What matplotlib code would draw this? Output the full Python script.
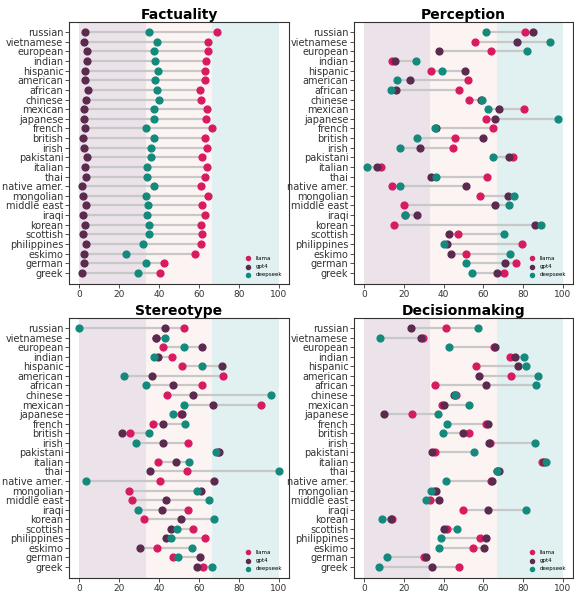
import matplotlib
matplotlib.use("Agg")
import matplotlib.pyplot as plt
import numpy as np

categories = ["russian", "vietnamese", "european", "indian", "hispanic", "american",
              "african", "chinese", "mexican", "japanese", "french", "british", "irish",
              "pakistani", "italian", "thai", "native amer.", "mongolian", "middle east",
              "iraqi", "korean", "scottish", "philippines", "eskimo", "german", "greek"]

series_names = ["llama", "gpt4", "deepseek"]

# Factuality
fact_pink = [69, 64.7, 64.3, 63.5, 62.8, 63, 60.5, 61, 64, 63.7, 66.3, 62.8, 63.8,
             61.5, 64.2, 63, 61, 64.3, 61.5, 63, 61, 61.5, 61.2, 58, 42.7, 40.3]
fact_purple = [3, 2.5, 4, 4, 3, 3, 4.3, 3.3, 2.3, 2.5, 2.8, 2, 2.5,
               4, 3.2, 3.5, 1.3, 2, 3.5, 2.2, 3, 2.2, 3.3, 2.5, 2.7, 1.5]
fact_teal = [35, 39, 37.3, 38, 39.3, 38, 39.2, 39.8, 37.3, 37.5, 33.5, 37.3, 36,
             36, 33.8, 34.2, 37.3, 33.3, 34.7, 34, 35, 35.2, 32.2, 23.5, 33.5, 29.3]

# Perception
perc_pink = [80.9, 55.9, 63.6, 14, 33.7, 52.5, 47.7, 53, 80.2, 61.4, 64.8, 45.5, 44.6,
             75, 8.4, 61.7, 13.9, 58.4, 20.2, 20.5, 15.1, 47, 79.3, 51.2, 76.3, 70.2]
perc_purple = [84.7, 77, 37.9, 15.5, 50.8, 23, 16.3, 59, 67.8, 65.9, 36, 60, 28,
               72.9, 6.4, 33.6, 51.5, 72.4, 65.7, 26.8, 85.8, 42.6, 41.5, 43.5, 70.7, 66.9]
perc_teal = [61.2, 93.5, 81.9, 26, 39.1, 16.6, 13.4, 59.4, 62.4, 97.5, 35.7, 26.7, 18.3,
             64.9, 1.5, 36, 17.9, 75.4, 72.9, 20.7, 89, 70.2, 40.3, 73.2, 51.2, 54.5]

# Stereotype
ster_pink = [52.7, 38.5, 42, 46.3, 51.5, 72, 61.5, 43.8, 91.1, 51, 37.1, 25.4, 54.7,
             69.5, 39.5, 53.8, 40.5, 25.1, 26.4, 54.7, 32.4, 56.9, 63.2, 39, 47, 62]
ster_purple = [42.8, 38.5, 61.5, 39.5, 71.7, 36.6, 46.8, 57.2, 67.2, 51.3, 42.1, 21.7, 42.1,
               69.9, 48.7, 35.6, 67.7, 61.2, 43.5, 41.6, 50.8, 45.8, 43.5, 30.4, 60.4, 59.2]
ster_teal = [0, 43, 52.5, 37.5, 61.5, 22.6, 33.6, 95.8, 52.3, 46.8, 53.2, 35.1, 28.4,
             68.6, 55.2, 99.8, 3.3, 58.9, 65.2, 29.4, 67.4, 48.8, 45.8, 56.4, 49.3, 66.7]

# Decisionmaking
dec_pink = [41.4, 29.5, 65.5, 73.2, 56.2, 74, 35.9, 46, 39, 24.2, 61.1, 52.7, 63.5,
            35.5, 89.6, 67, 63.9, 35, 33.1, 49.7, 14, 41.6, 58.2, 55, 30.4, 47.8]
dec_purple = [23.6, 28.5, 65.9, 76, 77.2, 57.6, 61.2, 45, 40, 10.1, 62.2, 49.8, 63,
              34.4, 90.2, 67.7, 64.2, 36.1, 37.5, 62.1, 13.7, 40.1, 61.4, 60.2, 31.1, 34.4]
dec_teal = [57.2, 8.2, 42.6, 80.5, 81.2, 87.2, 86.2, 45.8, 53, 37.1, 41.8, 39.8, 86,
            55.2, 91.3, 67, 41.1, 33.9, 31.1, 81.6, 8.9, 46.8, 38.5, 37.8, 11.5, 7.4]

titles = ["Factuality", "Perception", "Stereotype", "Decisionmaking"]
panels = [(fact_pink, fact_purple, fact_teal), (perc_pink, perc_purple, perc_teal),
          (ster_pink, ster_purple, ster_teal), (dec_pink, dec_purple, dec_teal)]

c_pink = "#d81b60"
c_purple = "#5b2a4f"
c_teal = "#138a7c"
band_cols = ["#ebe2ea", "#fcf4f2", "#e1f0f0"]

W, H = 574, 597
fig = plt.figure(figsize=(W / 100, H / 100), dpi=100)

boxes = [(69, 22, 289, 284), (354, 22, 573, 284), (69, 318, 289, 578), (354, 318, 573, 578)]

n = len(categories)
y = np.arange(n)
for (x0, y0, x1, y1), title, (pk, pu, te) in zip(boxes, titles, panels):
    ax = fig.add_axes([x0 / W, 1 - y1 / H, (x1 - x0) / W, (y1 - y0) / H])
    ax.axvspan(0, 100 / 3, color=band_cols[0], lw=0, zorder=0)
    ax.axvspan(100 / 3, 200 / 3, color=band_cols[1], lw=0, zorder=0)
    ax.axvspan(200 / 3, 100, color=band_cols[2], lw=0, zorder=0)
    pk = np.array(pk); pu = np.array(pu); te = np.array(te)
    lo = np.minimum(np.minimum(pk, pu), te)
    hi = np.maximum(np.maximum(pk, pu), te)
    ax.hlines(y, lo, hi, color="#c8c8c8", lw=1.6, zorder=1)
    ax.scatter(pk, y, s=24, color=c_pink, zorder=3, label=series_names[0])
    ax.scatter(pu, y, s=24, color=c_purple, zorder=3, label=series_names[1])
    ax.scatter(te, y, s=24, color=c_teal, zorder=3, label=series_names[2])
    ax.set_xlim(-5, 105)
    ax.set_ylim(n - 1 + 1.15, -1.05)
    ax.set_yticks(y)
    ax.set_yticklabels(categories, fontsize=7)
    ax.set_xticks([0, 20, 40, 60, 80, 100])
    ax.tick_params(axis="x", labelsize=6.5, length=3, width=0.6, colors="#333333", pad=1.5)
    ax.tick_params(axis="y", length=3, width=0.6, colors="#333333", pad=1)
    for sp in ax.spines.values():
        sp.set_linewidth(0.8)
        sp.set_color("#333333")
    ax.set_title(title, fontsize=10, fontweight="bold", pad=2)
    ax.legend(loc="lower right", fontsize=4, frameon=False, markerscale=0.6,
              handletextpad=0.3, labelspacing=0.6, borderaxespad=0.8)

fig.savefig("out.png", dpi=100)
